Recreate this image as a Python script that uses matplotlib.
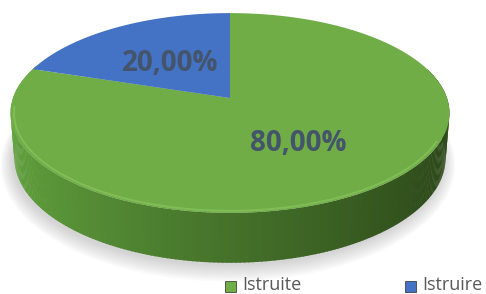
import numpy as np
import matplotlib
matplotlib.use('Agg')
import matplotlib.pyplot as plt
from matplotlib.patches import Polygon, Rectangle

# 数据
labels = ['Istruite', 'Istruire']
values = [80, 20]
colors_top = ['#70AD47', '#4472C4']
label_text = ['80,00%', '20,00%']

# 画布 486x294
fig = plt.figure(figsize=(4.86, 2.94), dpi=100)
ax = fig.add_axes([0, 0, 1, 1])
ax.set_xlim(0, 486)
ax.set_ylim(294, 0)
ax.axis('off')

# 透视参数
cx, cy = 230.0, 98.0
s_t, c_t = 0.45, 0.893
D, F = 5.95, 1291.0
H = 0.234


def proj(u, v, h=0.0):
    w = v * c_t - h * s_t
    Y = v * s_t + h * c_t
    k = F / (D + w)
    return cx + u * k, cy - Y * k


def arc(a0, a1, r=1.0, h=0.0, n=200):
    # 角度为从12点钟方向顺时针的度数
    th = np.radians(np.linspace(a0, a1, n))
    pts = [proj(r * np.sin(t), r * np.cos(t), h) for t in th]
    return np.array(pts)


# 阴影
bot = arc(0, 360, 1.0, -H, 360)
for i in range(10):
    g = bot.copy()
    g[:, 0] = cx + (g[:, 0] - cx) * (1.0 + 0.006 * i) - 2
    g[:, 1] = (cy + 20) + (g[:, 1] - (cy + 20)) * (1.0 + 0.012 * i) + 3
    ax.add_patch(Polygon(g, closed=True, fc='#808080', ec='none', alpha=0.035, zorder=1))

# 侧面 (渐变)
light = np.array([0x62, 0xa3, 0x3e]) / 255.0
dark = np.array([0x2c, 0x47, 0x19]) / 255.0
angs = np.linspace(72, 290, 220)
for a0, a1 in zip(angs[:-1], angs[1:]):
    top = arc(a0, a1 + 0.3, 1.0, 0.0, 3)
    btm = arc(a1 + 0.3, a0, 1.0, -H, 3)
    am = np.radians((a0 + a1) / 2)
    t = (np.sin(am) + 1) / 2
    t = t ** 0.9
    col = light * (1 - t) + dark * t
    ax.add_patch(Polygon(np.vstack([top, btm]), closed=True, fc=col, ec='none', zorder=2))

# 顶面扇区
frac = np.array(values) / float(sum(values))
start = 0.0
mids = []
for i, f in enumerate(frac):
    a0, a1 = start * 360, (start + f) * 360
    pts = np.vstack([[proj(0, 0)], arc(a0, a1)])
    ax.add_patch(Polygon(pts, closed=True, fc=colors_top[i], ec='none', zorder=3))
    mids.append((a0 + a1) / 2)
    start += f

# 顶面边缘高光
hl = arc(115, 265, 0.985)
ax.plot(hl[:, 0], hl[:, 1], color='#8fcb66', lw=1.4, alpha=0.55, zorder=4, solid_capstyle='round')

# 数据标签
for i, m in enumerate(mids):
    t = np.radians(m)
    x, y = proj(0.5 * np.sin(t), 0.5 * np.cos(t))
    ax.text(x, y + 3, label_text[i], ha='center', va='center', fontsize=20,
            fontweight='bold', color='#44546A', family='Open Sans', zorder=5)

# 图例
leg_x = [225, 405]
for i, lab in enumerate(labels):
    ax.add_patch(Rectangle((leg_x[i], 280.5), 11, 11, fc=colors_top[i], ec='#2a2a2a', lw=0.5, zorder=5))
    ax.text(leg_x[i] + 17, 285.5, lab, ha='left', va='center', fontsize=13,
            color='#595959', family='Open Sans', zorder=5)

plt.savefig('out.png', dpi=100)
